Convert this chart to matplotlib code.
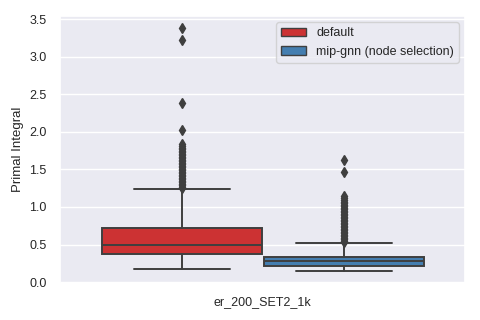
import matplotlib
matplotlib.use("Agg")
import matplotlib.pyplot as plt
import seaborn as sns
from matplotlib.patches import Patch

sns.set_theme(style="darkgrid")
plt.rcParams['font.family'] = ['Liberation Sans', 'DejaVu Sans']

category = "er_200_SET2_1k"
methods = ["default", "mip-gnn (node selection)"]
colors = ["#cc3233", "#447eb0"]

# box stats: whisker low, q1, median, q3, whisker high
whislo = [0.17, 0.15]
q1 = [0.37, 0.22]
med = [0.50, 0.28]
q3 = [0.72, 0.34]
whishi = [1.24, 0.52]

default_fliers = [1.25, 1.27, 1.29, 1.31, 1.33, 1.35, 1.37, 1.39, 1.41, 1.43, 1.45,
                  1.47, 1.49, 1.51, 1.53, 1.55, 1.57, 1.59, 1.61, 1.63, 1.65, 1.67,
                  1.69, 1.71, 1.73, 1.75, 1.77, 1.79, 1.81, 1.84, 2.02, 2.38, 3.22, 3.38]
gnn_fliers = [0.53, 0.55, 0.57, 0.59, 0.61, 0.63, 0.65, 0.67, 0.69, 0.71, 0.73, 0.75,
              0.77, 0.79, 0.81, 0.83, 0.85, 0.87, 0.89, 0.91, 0.93, 0.95, 0.97, 0.99,
              1.01, 1.03, 1.05, 1.07, 1.09, 1.12, 1.15, 1.47, 1.62]
fliers = [default_fliers, gnn_fliers]

positions = [-0.2, 0.2]

stats = []
for i in range(len(methods)):
    stats.append(dict(whislo=whislo[i], q1=q1[i], med=med[i], q3=q3[i],
                      whishi=whishi[i], fliers=fliers[i], label=methods[i]))

fig, ax = plt.subplots(figsize=(4.8, 3.2), dpi=100)
fig.subplots_adjust(left=0.125, right=0.969, top=0.95, bottom=0.116)

edge = "#3f3f3f"
bp = ax.bxp(stats, positions=positions, widths=0.395, patch_artist=True,
            showfliers=True, manage_ticks=False,
            boxprops=dict(edgecolor=edge, linewidth=1.4),
            medianprops=dict(color=edge, linewidth=1.4),
            whiskerprops=dict(color=edge, linewidth=1.4),
            capprops=dict(color=edge, linewidth=1.4),
            flierprops=dict(marker='d', markerfacecolor=edge, markeredgecolor=edge,
                            markersize=5, linestyle='none'))
for patch, c in zip(bp['boxes'], colors):
    patch.set_facecolor(c)
for cap in bp['caps']:
    x0, x1 = cap.get_xdata()
    xc = (x0 + x1) / 2
    cap.set_xdata([xc - 0.3 * 0.395, xc + 0.3 * 0.395])

ax.set_xlim(-0.5, 0.5)
ax.set_ylim(-0.01, 3.54)
ax.set_xticks([0])
ax.set_xticklabels([category])
ax.set_yticks([0.0, 0.5, 1.0, 1.5, 2.0, 2.5, 3.0, 3.5])
ax.grid(False, axis='x')
ax.tick_params(labelsize=9)
ax.set_ylabel("Primal Integral", fontsize=9.5)

handles = [Patch(facecolor=c, edgecolor=edge, label=m) for c, m in zip(colors, methods)]
ax.legend(handles=handles, loc="upper right", fontsize=9)

plt.savefig("out.png", dpi=100)
